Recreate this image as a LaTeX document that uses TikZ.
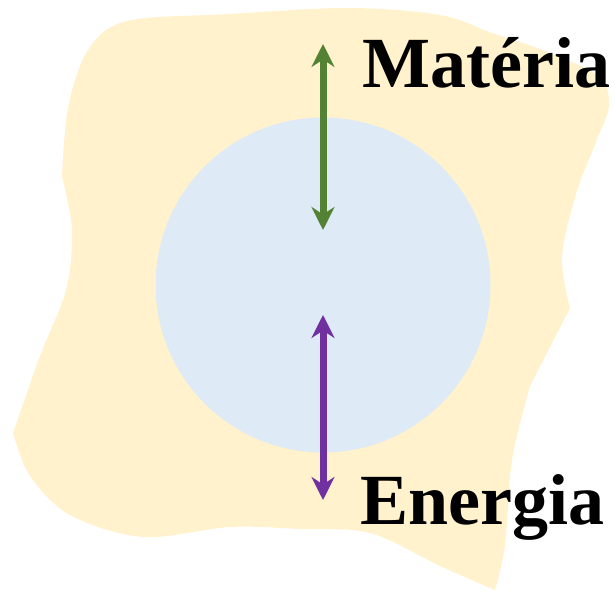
\documentclass[tikz,border=0pt]{standalone}
\usepackage{fontspec}
\setmainfont{Liberation Serif}
\usetikzlibrary{arrows.meta}

\definecolor{blobyellow}{HTML}{FFF2CC}
\definecolor{cellblue}{HTML}{DEEAF6}
\definecolor{matgreen}{HTML}{548235}
\definecolor{enpurple}{HTML}{7030A0}

\begin{document}
\begin{tikzpicture}[
    x=0.02cm, y=-0.02cm,
    blob/.style ={fill=blobyellow, draw=none},
    cell/.style ={circle, fill=cellblue, minimum size=6.7cm, inner sep=0pt},
    flow/.style ={{Stealth[length=0.46cm, width=0.46cm]}-{Stealth[length=0.46cm, width=0.46cm]},
                  line width=0.14cm},
    word/.style ={anchor=base west, inner sep=0pt,
                  font=\fontsize{41}{48}\selectfont\bfseries},
]
\useasboundingbox (0,0) rectangle (615,590);

% ── Surroundings ────────────────────────────────────────────────────────
\fill[blob]
    plot[smooth, tension=0.55] coordinates {
      (62,177) (68,108) (88,50) (127,21) (230,14) (348,8) (440,15) (492,33)
      (545,51) (598,76) (609,105) (596,142) (576,194) (562,257) (570,308)}
 -- plot[smooth, tension=0.55] coordinates {
      (530,386) (512,460) (505,545) (495,590)}
 -- plot[smooth, tension=0.55] coordinates {
      (495,590) (440,566) (370,533) (300,529) (230,527) (143,537) (70,515)
      (30,476) (13,433)}
 -- plot[smooth, tension=0.55] coordinates {
      (13,433) (40,356) (66,290) (72,230) (62,177)}
 -- cycle;

% ── System ──────────────────────────────────────────────────────────────
\node[cell] (sys) at (323,285) {};

% ── Arrow ends ──────────────────────────────────────────────────────────
\coordinate (mtop) at (323,44);
\coordinate (mbot) at (323,230);
\coordinate (etop) at (323,315);
\coordinate (ebot) at (323,500);

% ── Labels ──────────────────────────────────────────────────────────────
\node[word] (mat) at (362,88)  {Matéria};
\node[word] (ene) at (360,525) {Energia};

% ── Arrows ──────────────────────────────────────────────────────────────
\draw[flow, matgreen] (mtop) -- (mbot);
\draw[flow, enpurple] (etop) -- (ebot);

\end{tikzpicture}
\end{document}
